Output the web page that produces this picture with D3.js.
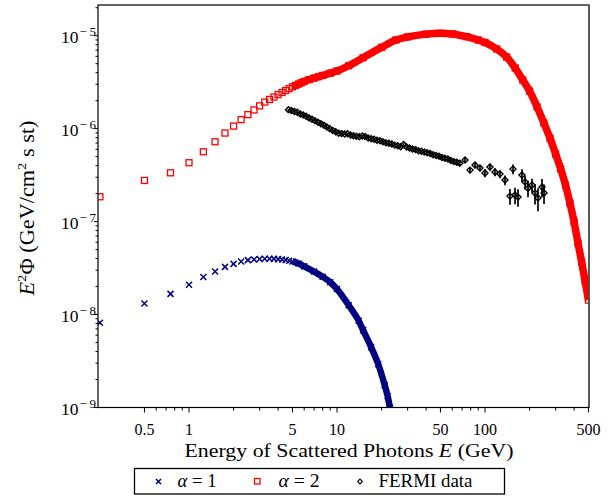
<!DOCTYPE html>
<html><head><meta charset="utf-8">
<script src="https://cdn.jsdelivr.net/npm/d3@7"></script>
<style>body{margin:0;background:#fff}svg{display:block}text{font-family:"Liberation Serif","Times New Roman",serif;fill:#000}</style>
</head><body><svg id="c" width="613" height="496"></svg>
<script>
// ---- data ----
const alpha1E = [0.25,0.5,0.75,1,1.25,1.5,1.75,2,2.25,2.5,2.75,3,3.25,3.5,3.75,4,4.25,4.5,4.75,5,5.5,6,7,8,9,10,12,14,15,17,19,21,22,22.75];
const alpha1V = [8.15e-9,1.315e-8,1.67e-8,2.09e-8,2.53e-8,2.91e-8,3.26e-8,3.51e-8,3.73e-8,3.85e-8,3.92e-8,3.96e-8,3.98e-8,3.98e-8,3.97e-8,3.95e-8,3.91e-8,3.86e-8,3.8e-8,3.72e-8,3.55e-8,3.3e-8,2.9e-8,2.55e-8,2.23e-8,1.88e-8,1.26e-8,8.6e-9,6.8e-9,4.46e-9,2.92e-9,1.74e-9,1.32e-9,1.0e-9];
const alpha2E = [0.25,0.5,0.75,1,1.25,1.5,1.75,2,2.25,2.5,2.75,3,3.25,3.5,3.75,4,4.25,4.5,4.75,5,5.25,5.5,5.75,6,6.5,7,7.5,8,9,10,12,15,20,25,30,40,50,60,75,90,100,120,140,160,180,200,225,250,275,300,325,350,375,400,425,450,475,500];
const alpha2V = [1.85e-7,2.77e-7,3.35e-7,4.3e-7,5.64e-7,7.23e-7,8.97e-7,1.066e-6,1.25e-6,1.415e-6,1.59e-6,1.76e-6,1.93e-6,2.06e-6,2.19e-6,2.33e-6,2.45e-6,2.57e-6,2.7e-6,2.82e-6,2.92e-6,3.02e-6,3.12e-6,3.22e-6,3.37e-6,3.5e-6,3.62e-6,3.74e-6,3.95e-6,4.17e-6,4.75e-6,5.8e-6,7.5e-6,9.0e-6,9.7e-6,1.04e-5,1.06e-5,1.045e-5,9.76e-6,9.0e-6,8.45e-6,7.2e-6,5.9e-6,4.49e-6,3.34e-6,2.54e-6,1.71e-6,1.15e-6,7.9e-7,5.33e-7,3.67e-7,2.47e-7,1.58e-7,9.9e-8,5.87e-8,3.66e-8,2.29e-8,1.43e-8];
const fermiE = [4.70,4.92,5.15,5.39,5.65,5.91,6.19,6.48,6.78,7.10,7.44,7.79,8.15,8.54,8.94,9.36,9.80,10.26,10.74,11.25,11.78,12.33,12.91,13.52,14.15,14.82,15.51,16.24,17.01,17.81,18.64,19.52,20.44,21.40,22.41,23.46,24.56,25.72,26.93,28.19,29.52,30.90,32.36,33.88,35.47,37.14,38.89,40.71,42.63,44.63,46.73,48.93,51.23,53.64,56.16,58.80,61.56,64.45,67.48,73.3,79.2,85.6,92.5,100,108,116.8,126.3,136.5,147.5,154.6,159.5,167.1,177.8,186.4,195.2,207.8,217.7,228,242.7,250.5];
const fermiV = [1.60e-6,1.57e-6,1.53e-6,1.50e-6,1.44e-6,1.40e-6,1.36e-6,1.30e-6,1.26e-6,1.22e-6,1.17e-6,1.13e-6,1.09e-6,1.04e-6,1.00e-6,9.55e-7,9.25e-7,8.95e-7,8.85e-7,8.75e-7,8.80e-7,8.55e-7,8.40e-7,8.30e-7,8.20e-7,8.35e-7,8.25e-7,7.95e-7,7.80e-7,7.70e-7,7.50e-7,7.40e-7,7.25e-7,7.05e-7,6.95e-7,6.85e-7,6.65e-7,6.55e-7,6.40e-7,6.75e-7,6.35e-7,6.20e-7,6.05e-7,5.95e-7,5.80e-7,5.70e-7,5.60e-7,5.50e-7,5.40e-7,5.25e-7,5.15e-7,5.05e-7,4.90e-7,4.80e-7,4.72e-7,4.55e-7,4.42e-7,4.35e-7,4.25e-7,4.59e-7,3.58e-7,4.06e-7,3.77e-7,3.33e-7,3.86e-7,3.41e-7,3.25e-7,2.80e-7,1.88e-7,3.67e-7,1.93e-7,1.835e-7,3.17e-7,2.66e-7,2.29e-7,2.47e-7,2.03e-7,1.79e-7,2.35e-7,2.03e-7];
const fermiErr = [3e-8,3e-8,3e-8,3e-8,3e-8,3e-8,3e-8,2.8e-8,2.8e-8,2.8e-8,2.6e-8,2.6e-8,2.5e-8,2.4e-8,2.3e-8,2.2e-8,2.2e-8,2.1e-8,2.1e-8,2.1e-8,2.1e-8,2e-8,2e-8,2e-8,2e-8,2e-8,2e-8,2e-8,2e-8,2e-8,2e-8,2e-8,2e-8,2e-8,2e-8,2e-8,2e-8,2e-8,2e-8,2e-8,2e-8,2e-8,2e-8,2e-8,2e-8,2e-8,2e-8,2e-8,2e-8,2e-8,2e-8,2e-8,2e-8,2e-8,2e-8,2.2e-8,2.2e-8,2.3e-8,2.4e-8,2.8e-8,2.6e-8,3e-8,2.8e-8,3.3e-8,3.4e-8,3.4e-8,3.2e-8,3.4e-8,3.6e-8,4.4e-8,3.9e-8,3.9e-8,4.8e-8,4.5e-8,4.6e-8,4.2e-8,5e-8,5e-8,5.2e-8,4.8e-8];
const xMajorTicks = [0.5,1,5,10,50,100,500];
const xMinorTicks = [0.6,0.7,0.8,0.9,2,3,4,6,7,8,9,20,30,40,60,70,80,90,200,300,400];
const yMajorExp = [-9,-8,-7,-6,-5];
const legendLabels = ["α = 1","α = 2","FERMI data"];

// ---- layout ----
const L=98,R=589,T=5,B=407.5;
const svg=d3.select("#c");
const x=d3.scaleLog().domain([0.2427,504.3]).range([L,R]);
const y=d3.scaleLog().domain([1e-9,2.14e-5]).range([B,T]);
const RED="#ff0000", BLUE="#000080";

svg.append("clipPath").attr("id","clip").append("rect").attr("x",L).attr("y",T).attr("width",R-L).attr("height",B-T);
const g=svg.append("g").attr("clip-path","url(#clip)");

const a1=alpha1E.map((e,i)=>({e,v:alpha1V[i]}));
const a2=alpha2E.map((e,i)=>({e,v:alpha2V[i]}));
const fm=fermiE.map((e,i)=>({e,v:fermiV[i],s:fermiErr[i]}));
const line=d3.line().x(d=>x(d.e)).y(d=>y(d.v)).curve(d3.curveMonotoneX);

// red band + squares
g.append("path").attr("d",line(a2.filter(d=>d.e>=5))).attr("fill","none").attr("stroke",RED).attr("stroke-width",7.5);
g.selectAll(".sq").data(a2).enter().append("rect")
 .attr("x",d=>x(d.e)-3).attr("y",d=>y(d.v)-3).attr("width",6).attr("height",6)
 .attr("fill","none").attr("stroke",RED).attr("stroke-width",1.3);

// blue band + crosses
g.append("path").attr("d",line(a1.filter(d=>d.e>=5))).attr("fill","none").attr("stroke",BLUE).attr("stroke-width",6.5);
const cross="M-3,-3L3,3M-3,3L3,-3";
g.selectAll(".cr").data(a1).enter().append("path")
 .attr("transform",d=>`translate(${x(d.e)},${y(d.v)})`).attr("d",cross)
 .attr("stroke",BLUE).attr("stroke-width",1.5).attr("fill","none");

// fermi error bars + diamonds
g.selectAll(".eb").data(fm).enter().append("line")
 .attr("x1",d=>x(d.e)).attr("x2",d=>x(d.e)).attr("y1",d=>y(d.v+d.s)).attr("y2",d=>y(Math.max(d.v-d.s,1e-12)))
 .attr("stroke","#000").attr("stroke-width",1.7);
const diamond="M0,-3L3,0L0,3L-3,0Z";
g.selectAll(".dm").data(fm).enter().append("path")
 .attr("transform",d=>`translate(${x(d.e)},${y(d.v)})`).attr("d",diamond)
 .attr("fill","none").attr("stroke","#000").attr("stroke-width",1.4);

// frame
svg.append("rect").attr("x",L).attr("y",T).attr("width",R-L).attr("height",B-T).attr("fill","none").attr("stroke","#000").attr("stroke-width",1.2);
svg.append("line").attr("x1",R).attr("x2",R).attr("y1",T).attr("y2",B).attr("stroke","#555").attr("stroke-width",1.6);

// x ticks
const ax=svg.append("g");
xMajorTicks.forEach(t=>{
  ax.append("line").attr("x1",x(t)).attr("x2",x(t)).attr("y1",B).attr("y2",B+5).attr("stroke","#000");
  ax.append("text").attr("x",x(t)).attr("y",435).attr("text-anchor","middle").attr("font-size",16).text(t);
});
xMinorTicks.forEach(t=>{
  ax.append("line").attr("x1",x(t)).attr("x2",x(t)).attr("y1",B).attr("y2",B+3).attr("stroke","#000");
});
// y ticks
yMajorExp.forEach(k=>{
  const v=Math.pow(10,k), yy=y(v);
  ax.append("line").attr("x1",L-4).attr("x2",L).attr("y1",yy).attr("y2",yy).attr("stroke","#000");
  const t=ax.append("text").attr("x",96).attr("y",yy+7.5).attr("text-anchor","end").attr("font-size",17.5);
  t.append("tspan").text("10");
  t.append("tspan").attr("dy",-7).attr("dx",1).attr("font-size",13).text("\u2212\u2009"+(-k));
  for(let m=2;m<=9;m++){
    const mv=m*v; if(mv>y.domain()[1]) break;
    ax.append("line").attr("x1",L-2.5).attr("x2",L).attr("y1",y(mv)).attr("y2",y(mv)).attr("stroke","#000");
  }
});

// axis labels
const xl=svg.append("text").attr("x",349).attr("y",457).attr("text-anchor","middle").attr("font-size",19.5)
  .attr("textLength",329).attr("lengthAdjust","spacingAndGlyphs");
xl.append("tspan").text("Energy of Scattered Photons ");
xl.append("tspan").attr("font-style","italic").text("E");
xl.append("tspan").text(" (GeV)");
const yl=svg.append("text").attr("transform","translate(34,208) rotate(-90)").attr("text-anchor","middle").attr("font-size",20.5)
  .attr("textLength",175).attr("lengthAdjust","spacingAndGlyphs");
yl.append("tspan").attr("font-style","italic").text("E");
yl.append("tspan").attr("dy",-8).attr("font-size",13.5).text("2");
yl.append("tspan").attr("dy",8).text("Φ (GeV/cm");
yl.append("tspan").attr("dy",-8).attr("font-size",13.5).text("2");
yl.append("tspan").attr("dy",8).text(" s st)");

// legend
const lg=svg.append("g");
lg.append("rect").attr("x",134.5).attr("y",468.5).attr("width",370).attr("height",25.5).attr("fill","#fff").attr("stroke","#000").attr("stroke-width",1.3);
lg.append("path").attr("transform","translate(158.5,481.5)").attr("d","M-2.5,-2.5L2.5,2.5M-2.5,2.5L2.5,-2.5").attr("stroke",BLUE).attr("stroke-width",1.5);
lg.append("rect").attr("x",254.5).attr("y",478.5).attr("width",5.5).attr("height",5.5).attr("fill","none").attr("stroke",RED).attr("stroke-width",1.3);
lg.append("path").attr("transform","translate(360,481.5) scale(0.8)").attr("d",diamond).attr("fill","none").attr("stroke","#000").attr("stroke-width",1.4);
[[177.5,0,39],[278.5,1,41],[378.5,2,94]].forEach(([px,i,w])=>{
  const t=lg.append("text").attr("x",px).attr("y",487).attr("font-size",18.5)
    .attr("textLength",w).attr("lengthAdjust","spacingAndGlyphs");
  if(i<2){ t.append("tspan").attr("font-style","italic").text("α"); t.append("tspan").text(legendLabels[i].slice(1)); }
  else t.text(legendLabels[i]);
});
</script></body></html>
